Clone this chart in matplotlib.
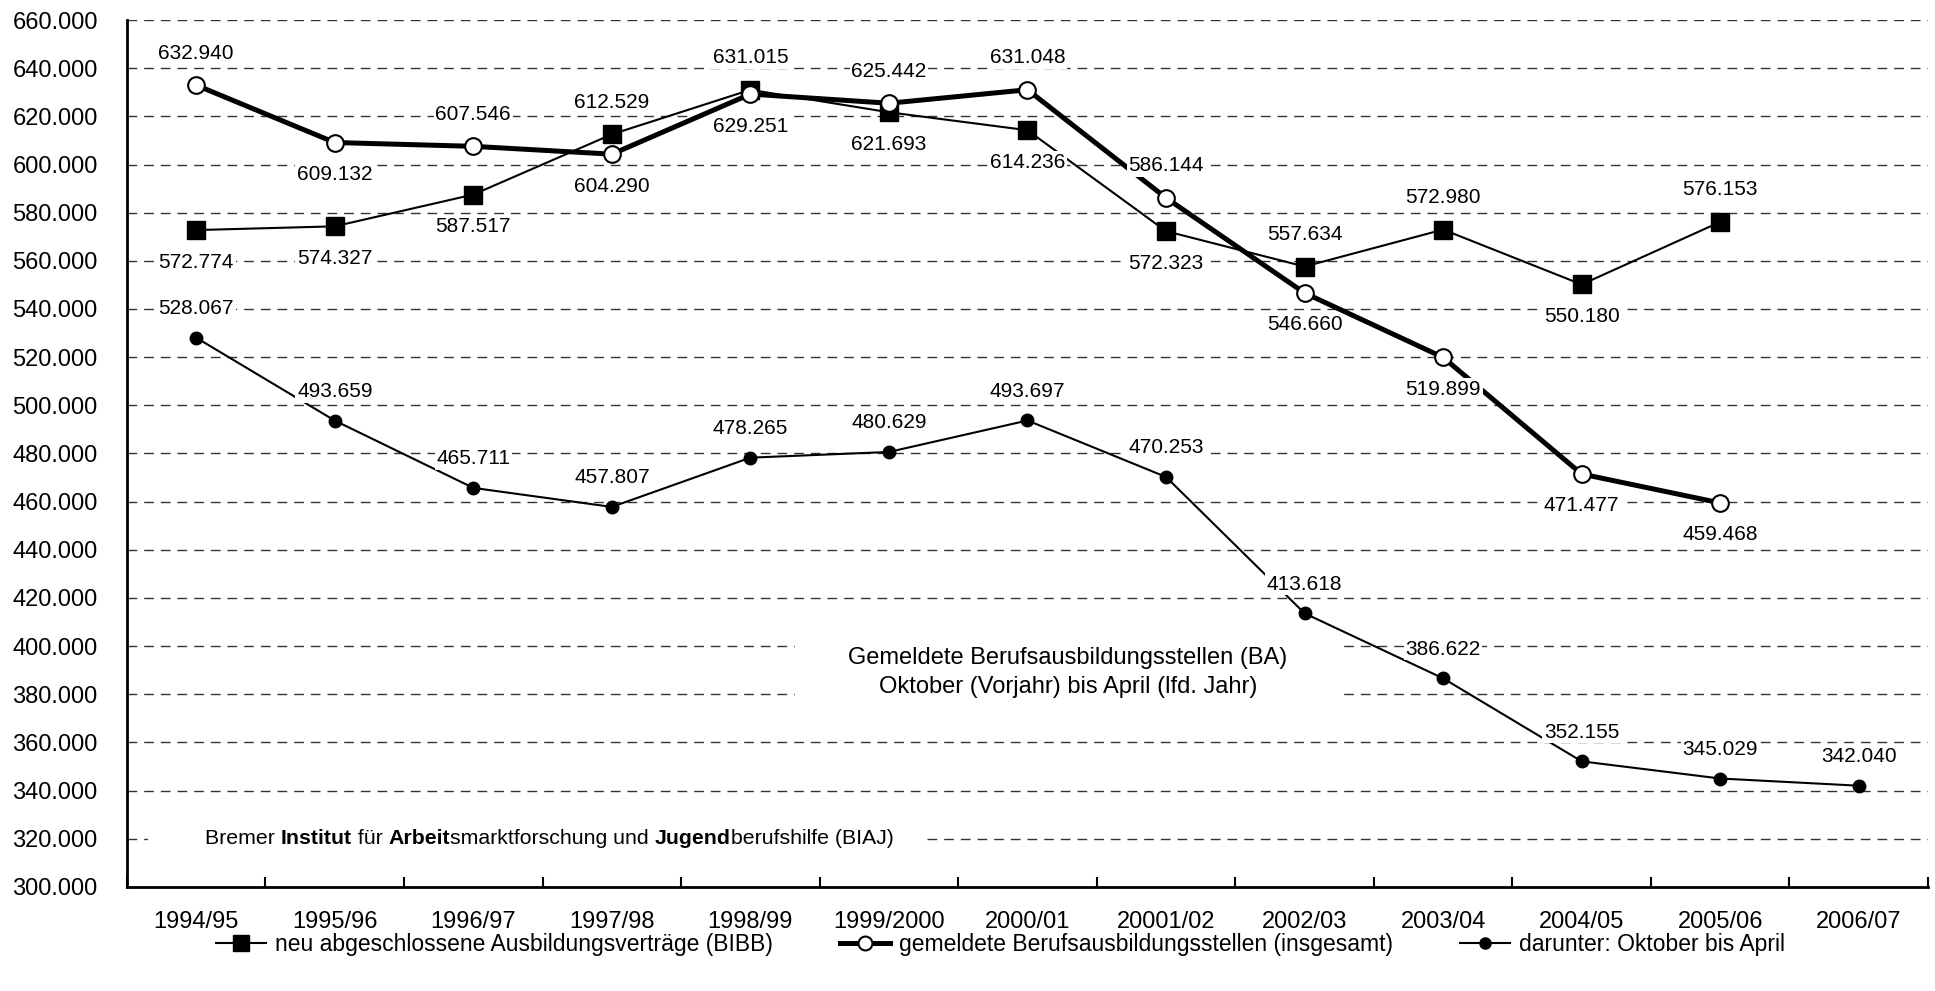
"""
Gemeldete Berufsausbildungsstellen vs. neu abgeschlossene Ausbildungsvertraege
1994/95 - 2006/07 (BIAJ-Grafik nachgebaut).
"""

import matplotlib
matplotlib.use("Agg")
import matplotlib.pyplot as plt
from matplotlib.lines import Line2D
from matplotlib.patches import Rectangle
from matplotlib.ticker import FuncFormatter, MultipleLocator

plt.rcParams['font.family'] = ['Liberation Sans', 'DejaVu Sans']

# ============================================
# Data
# ============================================
years = ["1994/95", "1995/96", "1996/97", "1997/98", "1998/99", "1999/2000",
         "2000/01", "20001/02", "2002/03", "2003/04", "2004/05", "2005/06",
         "2006/07"]

vertraege = [572774, 574327, 587517, 612529, 631015, 621693, 614236,
             572323, 557634, 572980, 550180, 576153]
vertraege_pos = ["below", "below", "below", "above", "above", "below", "below",
                 "below", "above", "above", "below", "above"]

stellen = [632940, 609132, 607546, 604290, 629251, 625442, 631048,
           586144, 546660, 519899, 471477, 459468]
stellen_pos = ["above", "below", "above", "below", "below", "above", "above",
               "above", "below", "below", "below", "below"]

okt_april = [528067, 493659, 465711, 457807, 478265, 480629, 493697,
             470253, 413618, 386622, 352155, 345029, 342040]

legend_labels = ["neu abgeschlossene Ausbildungsverträge (BIBB)",
                 "gemeldete Berufsausbildungsstellen (insgesamt)",
                 "darunter: Oktober bis April"]


def de_fmt(v):
    return f"{v:,.0f}".replace(",", ".")


# ============================================
# Figure
# ============================================
fig = plt.figure(figsize=(19.35, 9.91), dpi=100)
ax = fig.add_axes([0.0656, 0.105, 0.9308, 0.8748])

ax.set_xlim(-0.5, len(years) - 0.5)
ax.set_ylim(300000, 660000)
ax.yaxis.set_major_locator(MultipleLocator(20000))
ax.yaxis.set_major_formatter(FuncFormatter(lambda v, p: de_fmt(v)))
ax.grid(axis="y", color="#333333", linestyle=(0, (7, 5)), linewidth=1.0)
ax.set_axisbelow(True)

ax.set_xticks(range(len(years)))
ax.set_xticklabels(years)
ax.set_xticks([i - 0.5 for i in range(len(years) + 1)], minor=True)
ax.tick_params(axis="x", which="major", length=0, pad=17, labelsize=17)
ax.tick_params(axis="x", which="minor", direction="in", length=7, width=1.5)
ax.tick_params(axis="y", length=0, pad=21, labelsize=17)

for s in ["top", "right"]:
    ax.spines[s].set_visible(False)
for s in ["left", "bottom"]:
    ax.spines[s].set_linewidth(2)

# white boxes for the two notes (they break the grid lines)
ax.add_patch(Rectangle((0.371, 0.195), 0.303, 0.115, transform=ax.transAxes,
                       facecolor="white", edgecolor="none", zorder=1))
ax.add_patch(Rectangle((0.0117, 0.035), 0.431, 0.04, transform=ax.transAxes,
                       facecolor="white", edgecolor="none", zorder=1))

# ============================================
# Series
# ============================================
x1 = list(range(len(vertraege)))
x3 = list(range(len(okt_april)))

ax.plot(x3, okt_april, color="black", lw=1.5, marker="o", ms=9,
        mfc="black", mec="black", zorder=3)
ax.plot(x1, vertraege, color="black", lw=1.5, marker="s", ms=13,
        mfc="black", mec="black", zorder=3)
ax.plot(x1, stellen, color="black", lw=3.6, marker="o", ms=12,
        mfc="white", mec="black", mew=1.5, zorder=4)

label_box = dict(boxstyle="square,pad=0.08", facecolor="white", edgecolor="none")


def add_labels(xs, ys, pos, off):
    for x, y, p in zip(xs, ys, pos):
        dy = off if p == "above" else -off
        ax.annotate(de_fmt(y), (x, y), xytext=(0, dy), textcoords="offset points",
                    ha="center", va="center", fontsize=15, bbox=label_box,
                    zorder=6)


add_labels(x1, vertraege, vertraege_pos, 23)
add_labels(x1, stellen, stellen_pos, 23)
add_labels(x3, okt_april, ["above"] * len(okt_april), 21)

# ============================================
# Notes
# ============================================
ax.text(0.5225, 0.247,
        "Gemeldete Berufsausbildungsstellen (BA)\nOktober (Vorjahr) bis April (lfd. Jahr)",
        transform=ax.transAxes, ha="center", va="center", fontsize=17,
        linespacing=1.4, zorder=2)

pieces = [("Bremer ", "normal"), ("Institut", "bold"), (" für ", "normal"),
          ("Arbeit", "bold"), ("smarktforschung und ", "normal"),
          ("Jugend", "bold"), ("berufshilfe (BIAJ)", "normal")]
prev = ax.text(0.0433, 0.0556, pieces[0][0], transform=ax.transAxes,
               ha="left", va="center", fontsize=15.3, zorder=2)
for txt, w in pieces[1:]:
    prev = ax.annotate(txt, xy=(1, 0), xycoords=prev, ha="left", va="bottom",
                       fontsize=15.3, fontweight=w, zorder=2)

# ============================================
# Legend
# ============================================
handles = [
    Line2D([], [], color="black", lw=1.5, marker="s", ms=11, mfc="black"),
    Line2D([], [], color="black", lw=3.6, marker="o", ms=10, mfc="white",
           mec="black", mew=1.5),
    Line2D([], [], color="black", lw=1.5, marker="o", ms=8, mfc="black"),
]
fig.legend(handles, legend_labels, loc="center", bbox_to_anchor=(0.517, 0.047),
           ncol=3, frameon=False, fontsize=16.5, handlelength=2.2,
           handletextpad=0.4, columnspacing=2.9)

plt.savefig("out.png", dpi=100)
